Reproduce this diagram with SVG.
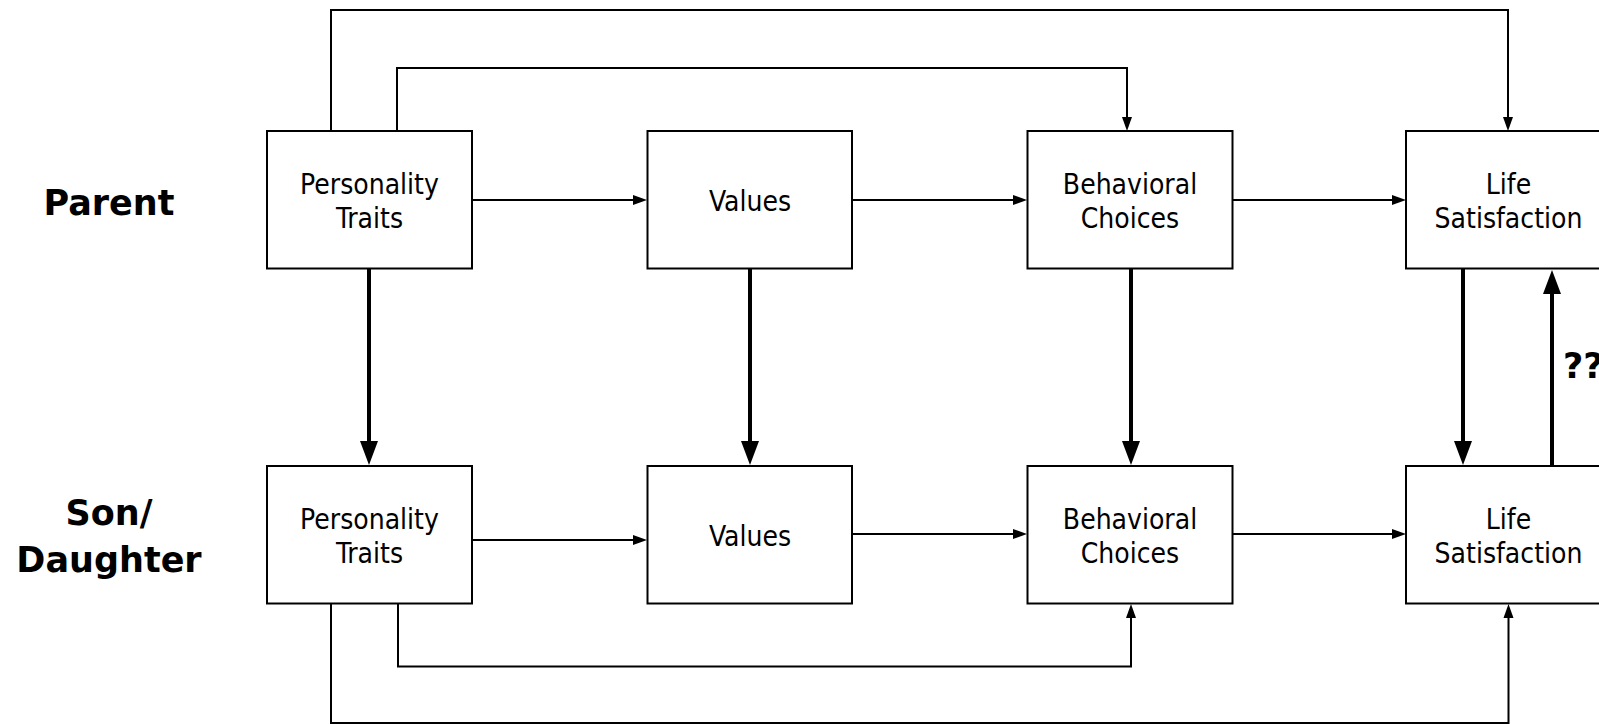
<svg xmlns="http://www.w3.org/2000/svg" width="1599" height="724" viewBox="0 0 1599 724">
<style>
.box{fill:#fff;stroke:#000;stroke-width:2}
.t{font-family:"DejaVu Sans Condensed","DejaVu Sans",sans-serif;font-stretch:condensed;font-size:28px;fill:#000;text-anchor:middle}
.lb{font-family:"DejaVu Sans",sans-serif;font-weight:bold;font-size:35px;fill:#000;text-anchor:middle}
.thin{fill:none;stroke:#000;stroke-width:2;marker-end:url(#a)}
.thick{fill:none;stroke:#000;stroke-width:4;marker-end:url(#b)}
</style>
<defs>
<marker id="a" markerUnits="userSpaceOnUse" markerWidth="14" markerHeight="10" refX="8" refY="5" orient="auto" overflow="visible"><path d="M0,0 L14,5 L0,10 z" fill="#000"/></marker>
<marker id="b" markerUnits="userSpaceOnUse" markerWidth="24" markerHeight="18" refX="12" refY="9" orient="auto" overflow="visible"><path d="M0,0 L24,9 L0,18 z" fill="#000"/></marker>
</defs>
<rect width="1599" height="724" fill="#fff"/>
<g id="row-labels">
<text class="lb" x="109" y="215">Parent</text>
<text class="lb" x="109" y="525">Son/</text>
<text class="lb" x="109" y="572">Daughter</text>
</g>
<g id="connectors">
<path class="thin" d="M472,200 H641"/>
<path class="thin" d="M852,200 H1021"/>
<path class="thin" d="M1233,200 H1400"/>
<path class="thin" d="M472,540 H641"/>
<path class="thin" d="M852,534 H1021"/>
<path class="thin" d="M1233,534 H1400"/>
<path class="thick" d="M369,268 V453"/>
<path class="thick" d="M750,268 V453"/>
<path class="thick" d="M1131,268 V453"/>
<path class="thick" d="M1463,268 V453"/>
<path class="thick" d="M1552,466 V282"/>
<path class="thin" d="M331,131 V10 H1508 V125"/>
<path class="thin" d="M397,131 V68 H1127 V125"/>
<path class="thin" d="M398,603 V666.5 H1131 V610"/>
<path class="thin" d="M331,603 V723 H1508.5 V610"/>
<text class="lb" x="1563" y="378" style="text-anchor:start">??</text>
</g>
<g id="p-traits"><rect class="box" x="267" y="131" width="205" height="137.5"/><text class="t" x="369.5" y="194">Personality</text><text class="t" x="369.5" y="228">Traits</text></g>
<g id="p-values"><rect class="box" x="647.5" y="131" width="204.5" height="137.5"/><text class="t" x="750" y="210.5">Values</text></g>
<g id="p-behavior"><rect class="box" x="1027.5" y="131" width="205" height="137.5"/><text class="t" x="1130" y="194">Behavioral</text><text class="t" x="1130" y="228">Choices</text></g>
<g id="p-life"><rect class="box" x="1406" y="131" width="205" height="137.5"/><text class="t" x="1508.5" y="194">Life</text><text class="t" x="1508.5" y="228">Satisfaction</text></g>
<g id="c-traits"><rect class="box" x="267" y="466" width="205" height="137.5"/><text class="t" x="369.5" y="529">Personality</text><text class="t" x="369.5" y="563">Traits</text></g>
<g id="c-values"><rect class="box" x="647.5" y="466" width="204.5" height="137.5"/><text class="t" x="750" y="545.5">Values</text></g>
<g id="c-behavior"><rect class="box" x="1027.5" y="466" width="205" height="137.5"/><text class="t" x="1130" y="529">Behavioral</text><text class="t" x="1130" y="563">Choices</text></g>
<g id="c-life"><rect class="box" x="1406" y="466" width="205" height="137.5"/><text class="t" x="1508.5" y="529">Life</text><text class="t" x="1508.5" y="563">Satisfaction</text></g>
</svg>
